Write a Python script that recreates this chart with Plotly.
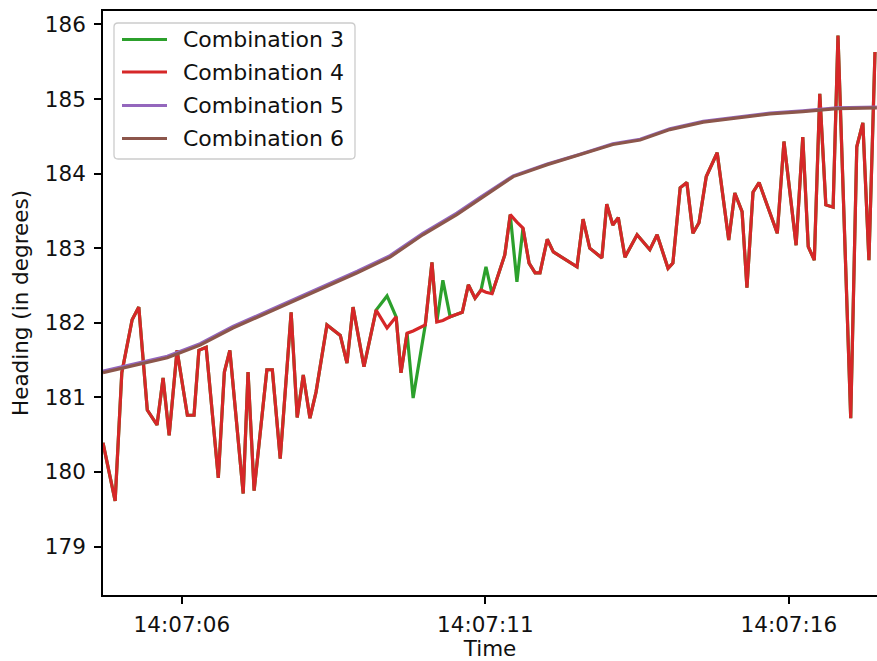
import pandas as pd
import plotly.graph_objects as go

# Sample times, seconds after 14:07:00
sample_secs = [
    4.70, 4.90, 5.01, 5.18, 5.29, 5.43, 5.59, 5.69, 5.79, 5.92,
    6.09, 6.20, 6.28, 6.40, 6.60, 6.70, 6.79, 7.01, 7.09, 7.19,
    7.40, 7.49, 7.62, 7.80, 7.90, 8.00, 8.11, 8.21, 8.39, 8.61,
    8.72, 8.82, 9.00, 9.20, 9.38, 9.53, 9.61, 9.71, 9.81, 10.01,
    10.12, 10.20, 10.30, 10.42, 10.62, 10.72, 10.83, 10.93, 11.01, 11.11,
    11.32, 11.41, 11.52, 11.62, 11.72, 11.82, 11.90, 12.02, 12.12, 12.51,
    12.61, 12.72, 12.92, 13.00, 13.10, 13.19, 13.30, 13.50, 13.71, 13.83,
    14.01, 14.09, 14.21, 14.32, 14.42, 14.52, 14.64, 14.82, 15.01, 15.11,
    15.23, 15.31, 15.41, 15.51, 15.81, 15.92, 16.12, 16.23, 16.32, 16.42,
    16.51, 16.61, 16.73, 16.81, 17.02, 17.12, 17.22, 17.32, 17.42,
]

combination_4 = [
    180.39, 179.61, 181.33, 182.04, 182.21, 180.83, 180.63, 181.26, 180.49, 181.63,
    180.76, 180.76, 181.63, 181.67, 179.92, 181.34, 181.63, 179.71, 181.34, 179.75,
    181.37, 181.37, 180.18, 182.14, 180.73, 181.30, 180.72, 181.07, 181.97, 181.83,
    181.46, 182.21, 181.41, 182.17, 181.93, 182.08, 181.33, 181.86, 181.89, 181.97,
    182.81, 182.01, 182.03, 182.08, 182.14, 182.51, 182.33, 182.44, 182.41, 182.39,
    182.91, 183.45, 183.35, 183.27, 182.80, 182.67, 182.67, 183.12, 182.95, 182.75,
    183.39, 183.00, 182.87, 183.59, 183.31, 183.41, 182.88, 183.18, 182.98, 183.18,
    182.73, 182.80, 183.81, 183.88, 183.20, 183.34, 183.96, 184.28, 183.11, 183.74,
    183.49, 182.47, 183.75, 183.88, 183.20, 184.43, 183.04, 184.49, 183.02, 182.84,
    185.07, 183.58, 183.55, 185.85, 180.72, 184.36, 184.68, 182.84, 185.63,
]

combination_3 = [
    180.39, 179.61, 181.33, 182.04, 182.21, 180.83, 180.63, 181.26, 180.49, 181.63,
    180.76, 180.76, 181.63, 181.67, 179.92, 181.34, 181.63, 179.71, 181.34, 179.75,
    181.37, 181.37, 180.18, 182.14, 180.73, 181.30, 180.72, 181.07, 181.97, 181.83,
    181.46, 182.21, 181.41, 182.17, 182.36, 182.08, 181.33, 181.86, 180.99, 181.97,
    182.81, 182.01, 182.57, 182.08, 182.14, 182.51, 182.33, 182.44, 182.75, 182.39,
    182.91, 183.45, 182.55, 183.27, 182.80, 182.67, 182.67, 183.12, 182.95, 182.75,
    183.39, 183.00, 182.87, 183.59, 183.31, 183.41, 182.88, 183.18, 182.98, 183.18,
    182.73, 182.80, 183.81, 183.88, 183.20, 183.34, 183.96, 184.28, 183.11, 183.74,
    183.49, 182.47, 183.75, 183.88, 183.20, 184.43, 183.04, 184.49, 183.02, 182.84,
    185.07, 183.58, 183.55, 185.85, 180.72, 184.36, 184.68, 182.84, 185.63,
]

# Smoothed solutions
smooth_secs = [
    4.70, 5.76, 6.30, 6.84, 7.40, 7.95, 8.33, 8.89, 9.43, 9.97, 10.53, 10.91,
    11.46, 12.02, 12.56, 13.10, 13.55, 14.04, 14.59, 15.15, 15.69, 16.23, 16.79, 17.45,
]
combination_5 = [
    181.35, 181.55, 181.72, 181.95, 182.15, 182.35, 182.49, 182.69, 182.90, 183.20, 183.47, 183.68,
    183.97, 184.13, 184.26, 184.40, 184.46, 184.60, 184.70, 184.76, 184.81, 184.84, 184.88, 184.89,
]
combination_6 = [
    181.33, 181.53, 181.70, 181.93, 182.13, 182.33, 182.47, 182.67, 182.88, 183.18, 183.45, 183.66,
    183.96, 184.12, 184.25, 184.39, 184.45, 184.59, 184.69, 184.75, 184.80, 184.83, 184.87, 184.88,
]

series_names = ["Combination 3", "Combination 4", "Combination 5", "Combination 6"]
series_colors = ["#2ca02c", "#d62728", "#9467bd", "#8c564b"]

y_ticks = [179, 180, 181, 182, 183, 184, 185, 186]
x_tick_secs = [6, 11, 16]
x_tick_labels = ["14:07:06", "14:07:11", "14:07:16"]
x_range_secs = [4.70, 17.453]
y_range = [178.35, 186.18]

base = pd.Timestamp("2000-01-01 14:07:00")


def to_time(secs):
    return [base + pd.Timedelta(seconds=s) for s in secs]


FONT = "DejaVu Sans"
FS = 21.5
TEXT = "#111111"

fig = go.Figure()
traces = [
    (sample_secs, combination_3),
    (sample_secs, combination_4),
    (smooth_secs, combination_5),
    (smooth_secs, combination_6),
]
for (secs, vals), name, color in zip(traces, series_names, series_colors):
    fig.add_trace(go.Scatter(
        x=to_time(secs), y=vals, mode="lines", name=name,
        line=dict(color=color, width=3.2), showlegend=False,
    ))

# Plot-area geometry (pixels) used to place the legend box
W, H = 877, 661
ML, MR, MT, MB = 103, 0, 11, 66
PW, PH = W - ML - MR, H - MT - MB


def px(x):
    return (x - ML) / PW


def py(y):
    return (H - MB - y) / PH


# Legend frame with rounded corners
x0, x1, y0, y1 = px(114), px(355), py(159), py(23)
rx, ry = 4 / PW, 4 / PH
frame = (
    f"M{x0+rx},{y0} L{x1-rx},{y0} Q{x1},{y0} {x1},{y0+ry} "
    f"L{x1},{y1-ry} Q{x1},{y1} {x1-rx},{y1} L{x0+rx},{y1} "
    f"Q{x0},{y1} {x0},{y1-ry} L{x0},{y0+ry} Q{x0},{y0} {x0+rx},{y0} Z"
)
shapes = [dict(type="path", xref="paper", yref="paper", path=frame,
               line=dict(color="#cccccc", width=1.3),
               fillcolor="rgba(255,255,255,0.8)", layer="above")]
annotations = []
row_y = [39.5, 72, 105.5, 138.5]
for name, color, ry_px in zip(series_names, series_colors, row_y):
    shapes.append(dict(type="line", xref="paper", yref="paper",
                       x0=px(122), x1=px(167), y0=py(ry_px), y1=py(ry_px),
                       line=dict(color=color, width=3.2), layer="above"))
    annotations.append(dict(xref="paper", yref="paper", x=px(181), y=py(ry_px),
                            xanchor="left", yanchor="middle", text=name, showarrow=False,
                            font=dict(family=FONT, size=FS + 0.5, color=TEXT)))

fig.update_layout(
    width=W, height=H,
    margin=dict(l=ML, r=MR, t=MT, b=MB),
    paper_bgcolor="white", plot_bgcolor="white",
    font=dict(family=FONT, size=FS, color=TEXT),
    shapes=shapes, annotations=annotations,
    showlegend=False,
)
fig.update_xaxes(
    type="date", automargin=False,
    range=[str(t) for t in to_time(x_range_secs)],
    tickvals=to_time(x_tick_secs), ticktext=x_tick_labels,
    showgrid=False, zeroline=False,
    showline=True, linecolor="black", linewidth=1.6, mirror=True,
    ticks="outside", ticklen=7, tickwidth=1.6, tickcolor="black",
    ticklabelstandoff=2,
    title=dict(text="Time", font=dict(family=FONT, size=FS), standoff=14),
)
fig.update_yaxes(
    automargin=False,
    range=y_range, tickvals=y_ticks,
    showgrid=False, zeroline=False,
    showline=True, linecolor="black", linewidth=1.6, mirror=False,
    ticks="outside", ticklen=7, tickwidth=1.6, tickcolor="black",
    ticklabelstandoff=4,
    title=dict(text="Heading (in degrees)", font=dict(family=FONT, size=FS), standoff=10),
)

fig.write_html("out.html")
